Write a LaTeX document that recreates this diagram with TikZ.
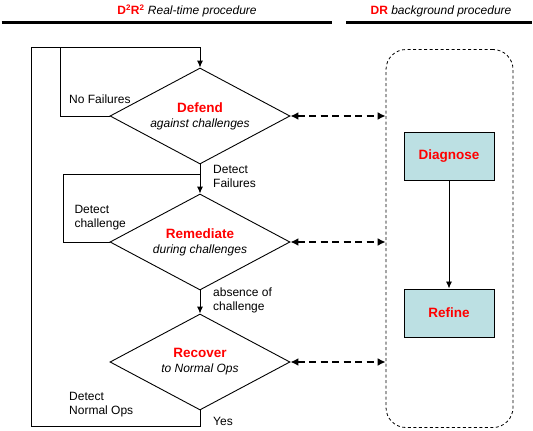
\documentclass[tikz,border=0pt]{standalone}
\usepackage{fontspec}
\setmainfont{Liberation Sans}
\usepackage{xcolor}
\usetikzlibrary{shapes.geometric,arrows.meta}
\begin{document}
\begin{tikzpicture}[x=1pt,y=-1pt,
    every node/.style={font=\fontsize{12}{14}\selectfont, inner sep=0pt},
    stage/.style={draw, diamond, aspect=1.875, minimum width=180pt, minimum height=96pt, line width=0.9pt, align=center},
    task/.style={draw, fill=taskFill, minimum width=90pt, minimum height=48pt, line width=1pt},
    lbl/.style={anchor=west, align=left},
    arr/.style={line width=0.9pt, -{Latex[length=7pt,width=6pt]}},
    link/.style={line width=1.8pt, dash pattern=on 7pt off 4.5pt, {Latex[length=8pt,width=8pt]}-{Latex[length=8pt,width=8pt]}}]
                \def\loopx{31.7}
                \def\topy{47.7}
                \def\midx{200}
                \definecolor{taskFill}{RGB}{188,224,227}
                \useasboundingbox (0,0) rectangle (533,431);
                \node (headRT) at (187,11) {\textcolor{red}{\bfseries D\textsuperscript{2}R\textsuperscript{2}}\ \textit{Real-time procedure}};
                \node (headDR) at (441,11) {\textcolor{red}{\bfseries DR}\ \textit{background procedure}};
                \draw[line width=2.2pt] (1.5,22.5) -- (332,22.5);
                \draw[line width=2.2pt] (346,22.5) -- (532,22.5);
                \node[stage] (defend) at (\midx,116) {\textcolor{red}{\fontsize{13.5}{16}\selectfont\bfseries Defend}\\[1pt]\textit{against challenges}};
                \node[stage] (remediate) at (\midx,242) {\textcolor{red}{\fontsize{13.5}{16}\selectfont\bfseries Remediate}\\[1pt]\textit{during challenges}};
                \node[stage] (recover) at (\midx,362) {\textcolor{red}{\fontsize{13.5}{16}\selectfont\bfseries Recover}\\[1pt]\textit{to Normal Ops}};
                \node[draw, dashed, dash pattern=on 3pt off 2.5pt, rounded corners=20pt, minimum width=127pt, minimum height=378pt, line width=0.8pt] (drbox) at (449.5,238.5) {};
                \node[task] (diagnose) at (449,156) {\textcolor{red}{\fontsize{13.5}{16}\selectfont\bfseries Diagnose}};
                \node[task] (refine) at (449,313) {\textcolor{red}{\fontsize{13.5}{16}\selectfont\bfseries Refine}};
                \coordinate (loopTop) at (\loopx,\topy);
                \coordinate (noFail) at (60,\topy);
                \coordinate (chalTop) at (63.4,174.8);
                \draw[arr] (recover.south) -- ++(0,16.2) -| (loopTop) -| (defend.north);
                \draw[line width=0.9pt] (defend.west) -| (noFail);
                \draw[arr] (defend.south) -- (remediate.north);
                \draw[line width=0.9pt] (remediate.west) -| (chalTop) -- (chalTop -| defend.south);
                \draw[arr] (remediate.south) -- (recover.north);
                \draw[arr] (diagnose) -- (refine);
                \foreach \s in {defend,remediate,recover} {
                  \draw[link] (\s.east) -- (\s.east -| drbox.west);
                }
                \node[lbl] (lblNoFail) at (69,99) {No Failures};
                \node[lbl] (lblFail) at (213,176.5) {Detect\\Failures};
                \node[lbl] (lblChal) at (74.3,217.3) {Detect\\challenge};
                \node[lbl] (lblAbs) at (213,300.5) {absence of\\challenge};
                \node[lbl] (lblNorm) at (69,404.8) {Detect\\Normal Ops};
                \node[lbl] (lblYes) at (213,421.5) {Yes};
              \end{tikzpicture}
\end{document}
